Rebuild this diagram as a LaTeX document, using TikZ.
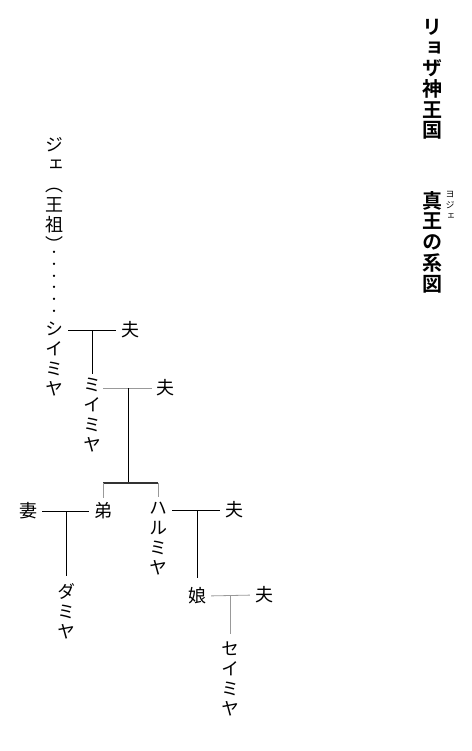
\documentclass[tikz,border=0pt]{standalone}
\usepackage{fontspec}
\newfontfamily\vjp[RawFeature=+vert, BoldFont={Noto Sans CJK JP Bold}]{Noto Sans CJK JP}
\begin{document}
\begin{tikzpicture}[x=1pt,y=-1pt,
  vt/.style={font=\vjp\fontsize{18}{20}\selectfont, align=center, inner sep=0pt, anchor=north},
  ht/.style={font=\vjp\fontsize{18}{20}\selectfont, inner sep=0pt},
  dotcol/.style={font=\vjp\fontsize{11}{11.8}\selectfont, align=center, inner sep=0pt, anchor=north},
  ttl/.style={font=\vjp\bfseries\fontsize{20}{20.7}\selectfont, align=center, inner sep=0pt, anchor=north},
  rby/.style={font=\vjp\fontsize{9}{11}\selectfont, align=center, inner sep=0pt, anchor=north},
  blk/.style={draw=black, line width=0.8pt, shorten <=5pt, shorten >=5pt},
  gry/.style={draw=black!40, line width=0.8pt, shorten <=5pt, shorten >=5pt},
  barline/.style={draw=black!80, line width=1.4pt}
]
\useasboundingbox (0,0) rectangle (471,751);
% title
\node[ttl] (t1) at (432,19) {リ\\ョ\\ザ\\神\\王\\国};
\node[ttl] (t2) at (432,191) {真\\王\\の\\系\\図};
\node[rby] (rb) at (450,191) {ヨ\\ジ\\ェ};
% people
\node[vt] (jie) at (54,137) {ジ\\ェ\\︵\\王\\祖\\︶};
\node[dotcol] (dots) at (54,251) {・\\・\\・\\・\\・\\・};
\node[vt] (shii) at (54,322) {シ\\イ\\ミ\\ヤ};
\node[ht] (otto1) at (130,330) {夫};
\node[vt] (mii) at (92,378) {ミ\\イ\\ミ\\ヤ};
\node[ht] (otto2) at (165,388) {夫};
\node[ht] (tsuma) at (28,511) {妻};
\node[ht] (otouto) at (103,511) {弟};
\node[vt] (haru) at (158,502) {ハ\\ル\\ミ\\ヤ};
\node[ht] (otto3) at (234,510) {夫};
\node[vt] (dami) at (66,583) {ダ\\ミ\\ヤ};
\node[ht] (musume) at (197,596) {娘};
\node[ht] (otto4) at (264,595) {夫};
\node[vt] (sei) at (230,642) {セ\\イ\\ミ\\ヤ};
% connectors
\coordinate (j2) at (128,388);
\coordinate (bar) at (128,483);
\draw[blk] (shii.east |- otto1) -- (otto1.west);
\draw[blk, shorten <=0pt, shorten >=4pt] (mii.north |- otto1) -- (mii.north);
\draw[gry, shorten <=2pt, shorten >=4pt] (mii.east |- otto2) -- (otto2.west);
\draw[blk, shorten <=0pt, shorten >=0pt] (j2) -- (bar);
\draw[barline] (otouto.north |- bar) -- (haru.north |- bar);
\draw[gry, shorten <=0pt, shorten >=5pt] (otouto.north |- bar) -- (otouto.north);
\draw[gry, shorten <=0pt, shorten >=5pt] (haru.north |- bar) -- (haru.north);
\draw[blk] (tsuma.east) -- (otouto.west);
\draw[blk, shorten <=0pt, shorten >=7pt] (dami.north |- tsuma) -- (dami.north);
\draw[blk] (haru.east |- otto3) -- (otto3.west);
\draw[blk, shorten <=0pt, shorten >=10pt] (musume.north |- otto3) -- (musume.north);
\draw[gry] (musume.east) -- (otto4.west);
\draw[gry, shorten <=0pt, shorten >=8pt] (sei.north |- otto4) -- (sei.north);
\end{tikzpicture}
\end{document}
